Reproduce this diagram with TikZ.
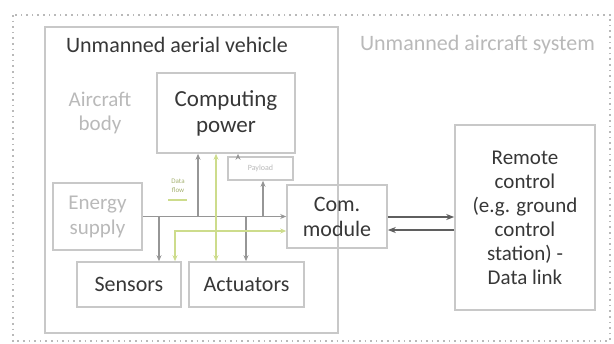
\documentclass[tikz,border=0pt]{standalone}
\usepackage{fontspec}
\setmainfont{Carlito}
\usepackage{tikz}
\usetikzlibrary{arrows.meta}

\definecolor{boxgray}{RGB}{200,200,200}
\definecolor{lightgray}{RGB}{185,185,185}
\definecolor{darktext}{RGB}{55,55,55}
\definecolor{wiregray}{RGB}{150,150,150}
\definecolor{datagreen}{RGB}{205,220,140}

\begin{document}
\begin{tikzpicture}[x=0.5pt, y=-0.5pt]
	\useasboundingbox (0,0) rectangle (614,343);
	% outer frames
	\draw [lightgray, dotted, thick] (13,15) rectangle (610,341);
	\draw [boxgray, thick] (45,27) rectangle (338,333);
	\node [darktext, font=\fontsize{11}{12}\selectfont, anchor=west] (uavtitle) at (59,45) {Unmanned aerial vehicle};
	\node [lightgray, font=\fontsize{11}{12}\selectfont, anchor=west] (uastitle) at (353,45) {Unmanned aircraft system};
	\node [lightgray, font=\fontsize{10.5}{12}\selectfont, align=center] (body) at (100,113) {Aircraft\\body};
	\begin{scope}[every node/.style = {rectangle, draw=boxgray, thick, align=center,
			inner sep=0pt, font=\fontsize{11}{12.5}\selectfont, text=darktext}]
		\node [minimum width=69pt, minimum height=40pt, font=\fontsize{11.5}{13}\selectfont] (comp) at (226,113) {Computing\\power};
		\node [minimum width=32.5pt, minimum height=11.5pt, font=\fontsize{4}{5}\selectfont, text=lightgray] (payload) at (260.5,168.5) {Payload};
		\node [minimum width=44.5pt, minimum height=33.5pt, font=\fontsize{10.5}{12.5}\selectfont, text=lightgray] (energy) at (97.5,216.5) {Energy\\supply};
		\node [minimum width=50pt, minimum height=31.5pt] (com) at (337,216.5) {Com.\\module};
		\node [minimum width=70pt, minimum height=92.5pt, font=\fontsize{10.5}{12}\selectfont] (remote) at (525,217.5) {Remote\\control\\(e.g. ground\\control\\station) -\\Data link};
		\node [minimum width=52pt, minimum height=22.5pt] (sensors) at (129,284.5) {Sensors};
		\node [minimum width=57.5pt, minimum height=22.5pt] (actuators) at (246.5,284.5) {Actuators};
	\end{scope}
	\node [text=datagreen!80!black, font=\fontsize{3.5}{4.5}\selectfont, align=center] (flowlabel) at (178,186) {Data\\flow};
	% taps on the supply line
	\coordinate (tapa) at (159,217);
	\coordinate (tapb) at (198,217);
	\coordinate (tapc) at (246,217);
	\coordinate (tapd) at (263,217);
	\coordinate (tape) at (238,0);
	\coordinate (greenv) at (216,0);
	\coordinate (greenh) at (175,231);
	\coordinate (linkout) at (0,217);
	\coordinate (linkin) at (0,230);
	\begin{scope}[>={Stealth[length=3pt, width=2.5pt]},
			every path/.style={draw=wiregray, thick}]
		\path [->] (energy) -- (com);
		\path [->] (tapa) -- (tapa |- sensors.north);
		\path [->] (tapb) -- (tapb |- comp.south);
		\path [->] (tapc) -- (tapc |- actuators.north);
		\path [->] (tapd) -- (tapd |- payload.south);
		\path [->] (tape |- payload.north) -- (tape |- comp.south);
	\end{scope}
	\begin{scope}[>={Stealth[length=3pt, width=2.5pt]},
			every path/.style={draw=datagreen, thick}]
		\path [<->] (greenv |- comp.south) -- (greenv |- actuators.north);
		\path [<->] (greenh -| com.west) -| (greenh |- sensors.north);
		\path [-] (168,200) -- (187,200);
	\end{scope}
	\begin{scope}[>={Stealth[length=4pt, width=3pt]},
			every path/.style={draw=darktext!80, thick}]
		\path [->] (linkout -| com.east) -- (linkout -| remote.west);
		\path [->] (linkin -| remote.west) -- (linkin -| com.east);
	\end{scope}
\end{tikzpicture}
\end{document}
